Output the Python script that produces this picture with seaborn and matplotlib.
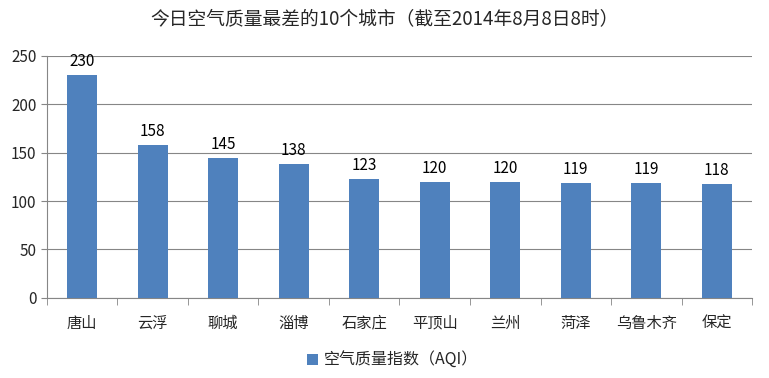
import matplotlib
matplotlib.use('Agg')
import matplotlib.pyplot as plt
import seaborn as sns
import pandas as pd

# data
cities = ['唐山', '云浮', '聊城', '淄博', '石家庄', '平顶山', '兰州', '菏泽', '乌鲁木齐', '保定']
aqi = [230, 158, 145, 138, 123, 120, 120, 119, 119, 118]
series_name = '空气质量指数（AQI）'
title = '今日空气质量最差的10个城市（截至2014年8月8日8时）'

df = pd.DataFrame({'city': cities, 'aqi': aqi})

sns.set_style('white')
plt.rcParams['font.family'] = ['Noto Sans CJK SC', 'DejaVu Sans']

fig = plt.figure(figsize=(7.69, 3.78), dpi=100)
ax = fig.add_axes([0.061, 0.212, 0.917, 0.64])

sns.barplot(data=df, x='city', y='aqi', color='#4F81BD', saturation=1,
            width=0.43, ax=ax, label=series_name, zorder=3, linewidth=0)

for i, v in enumerate(aqi):
    ax.text(i, v + 5, str(v), ha='center', va='bottom', fontsize=11, color='#000000')

ax.set_ylim(0, 250)
ax.set_yticks(range(0, 251, 50))
ax.set_xlim(-0.5, len(cities) - 0.5)
ax.yaxis.grid(True, color='#868686', linewidth=0.8, zorder=0)
ax.set_xlabel('')
ax.set_ylabel('')

for s in ['top', 'right']:
    ax.spines[s].set_visible(False)
for s in ['left', 'bottom']:
    ax.spines[s].set_color('#868686')
    ax.spines[s].set_linewidth(0.8)

ax.tick_params(axis='y', length=4, color='#868686', labelsize=11, left=True)
ax.set_xticks(range(len(cities)))
ax.set_xticklabels(cities, fontsize=11)
ax.tick_params(axis='x', length=0, pad=12)
# tick marks between categories
ax.set_xticks([i - 0.5 for i in range(len(cities) + 1)], minor=True)
ax.tick_params(axis='x', which='minor', length=5, color='#868686', bottom=True)

fig.suptitle(title, fontsize=13.5, x=0.5, y=0.975)

ax.legend(loc='upper center', bbox_to_anchor=(0.49, -0.165), frameon=False,
          fontsize=11.5, handlelength=0.7, handleheight=0.7, handletextpad=0.4)

fig.savefig('out.png', dpi=100)
